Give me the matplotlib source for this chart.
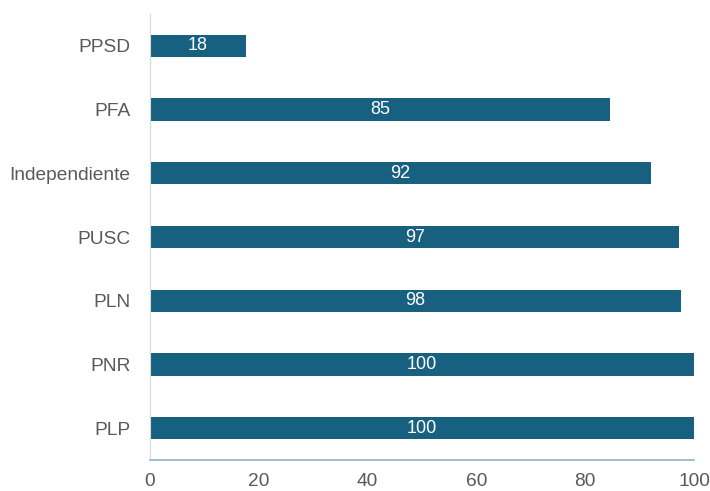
import matplotlib.pyplot as plt

categories = ["PLP", "PNR", "PLN", "PUSC", "Independiente", "PFA", "PPSD"]
values = [100, 100, 97.6, 97.3, 92.0, 84.6, 17.6]
xticks = [0, 20, 40, 60, 80, 100]

plt.rcParams["font.family"] = ["Liberation Sans", "DejaVu Sans"]

fig = plt.figure(figsize=(7.1, 4.91), dpi=100)
ax = fig.add_axes([0.2113, 0.0631, 0.7662, 0.9084])

bars = ax.barh(range(len(categories)), values, height=0.35, color="#17607f")
for b, v in zip(bars, values):
    ax.text(b.get_width() / 2, b.get_y() + b.get_height() / 2, f"{v:.0f}",
            ha="center", va="center", color="white", fontsize=13)

ax.set_xlim(0, 100)
ax.set_ylim(-0.5, len(categories) - 0.5)
ax.set_xticks(xticks)
ax.set_yticks(range(len(categories)))
ax.set_yticklabels(categories)
ax.tick_params(axis="both", length=0, labelsize=13.8, colors="#595959")
ax.tick_params(axis="x", pad=9)
ax.tick_params(axis="y", pad=14)

for s in ["top", "right"]:
    ax.spines[s].set_visible(False)
ax.spines["left"].set_color("#d9d9d9")
ax.spines["bottom"].set_color("#8fb3c9")
ax.spines["bottom"].set_linewidth(1.2)

fig.savefig("out.png", dpi=100)
